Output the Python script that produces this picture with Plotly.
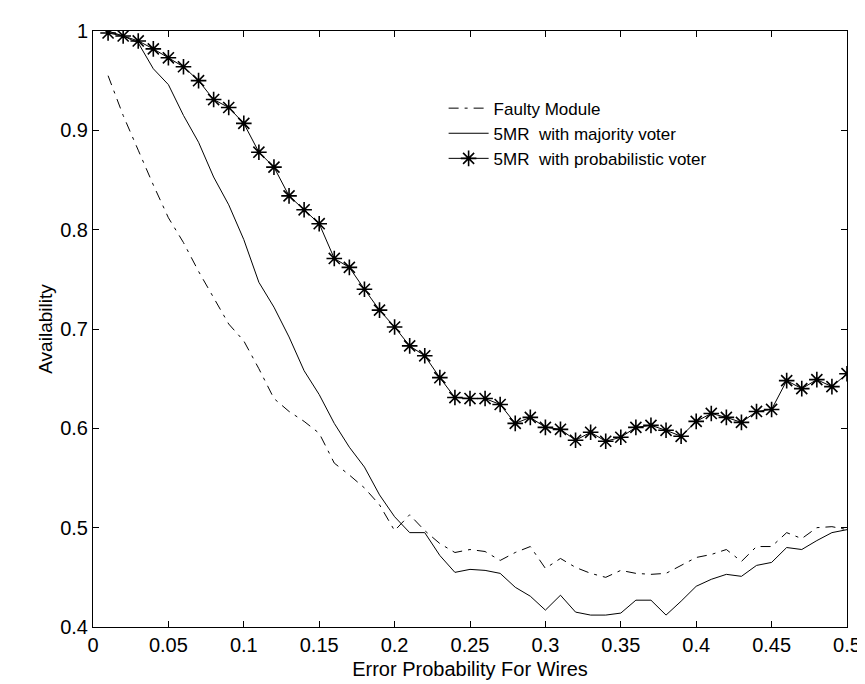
import plotly.graph_objects as go

x_vals = [round(0.01 * i, 2) for i in range(1, 51)]

faulty_module = [0.955, 0.915, 0.880, 0.845, 0.812, 0.787, 0.758, 0.731, 0.705, 0.688,
                 0.660, 0.630, 0.617, 0.607, 0.595, 0.565, 0.553, 0.540, 0.523, 0.497,
                 0.513, 0.497, 0.484, 0.475, 0.478, 0.476, 0.467, 0.475, 0.481, 0.459,
                 0.469, 0.460, 0.454, 0.450, 0.457, 0.454, 0.453, 0.454, 0.462, 0.470,
                 0.473, 0.478, 0.466, 0.481, 0.481, 0.495, 0.489, 0.500, 0.501, 0.498]

majority_voter = [1.000, 0.995, 0.988, 0.962, 0.946, 0.915, 0.888, 0.853, 0.825, 0.790,
                  0.747, 0.722, 0.692, 0.658, 0.634, 0.605, 0.581, 0.561, 0.533, 0.511,
                  0.495, 0.495, 0.472, 0.455, 0.458, 0.457, 0.454, 0.440, 0.431, 0.417,
                  0.432, 0.415, 0.412, 0.412, 0.414, 0.427, 0.427, 0.412, 0.426, 0.441,
                  0.448, 0.453, 0.451, 0.462, 0.465, 0.480, 0.478, 0.487, 0.495, 0.498]

probabilistic_voter = [0.998, 0.995, 0.990, 0.982, 0.973, 0.964, 0.950, 0.931, 0.923, 0.907,
                       0.878, 0.863, 0.834, 0.820, 0.806, 0.771, 0.762, 0.740, 0.719, 0.702,
                       0.683, 0.673, 0.651, 0.631, 0.630, 0.630, 0.624, 0.605, 0.611, 0.601,
                       0.599, 0.588, 0.596, 0.587, 0.591, 0.601, 0.603, 0.598, 0.592, 0.607,
                       0.615, 0.611, 0.606, 0.617, 0.619, 0.648, 0.640, 0.649, 0.642, 0.655]

x_tick_vals = [0, 0.05, 0.1, 0.15, 0.2, 0.25, 0.3, 0.35, 0.4, 0.45, 0.5]
x_tick_text = ["0", "0.05", "0.1", "0.15", "0.2", "0.25", "0.3", "0.35", "0.4", "0.45", "0.5"]
y_tick_vals = [0.4, 0.5, 0.6, 0.7, 0.8, 0.9, 1.0]
y_tick_text = ["0.4", "0.5", "0.6", "0.7", "0.8", "0.9", "1"]

FONT = "Liberation Sans, Arial, sans-serif"

fig = go.Figure()
fig.add_trace(go.Scatter(x=x_vals, y=faulty_module, mode="lines", name="Faulty Module",
                         line=dict(color="black", width=1, dash="10px,6px,3px,6px")))
fig.add_trace(go.Scatter(x=x_vals, y=majority_voter, mode="lines", name="5MR  with majority voter",
                         line=dict(color="black", width=1)))
fig.add_trace(go.Scatter(x=x_vals, y=probabilistic_voter, mode="lines+markers",
                         name="5MR  with probabilistic voter",
                         line=dict(color="black", width=1),
                         marker=dict(symbol="asterisk-open", size=13, color="black",
                                     line=dict(color="black", width=1.6))))

axis_common = dict(showline=True, linecolor="black", linewidth=1, mirror="ticks",
                   ticks="inside", ticklen=6, tickcolor="black", tickwidth=1,
                   showgrid=False, zeroline=False,
                   tickfont=dict(family=FONT, size=20, color="black"))

fig.update_layout(
    width=865, height=684,
    margin=dict(l=85, r=17, t=16, b=65),
    paper_bgcolor="white", plot_bgcolor="white",
    font=dict(family=FONT, size=20, color="black"),
    xaxis=dict(range=[0, 0.5], tickvals=x_tick_vals, ticktext=x_tick_text,
               title=dict(text="Error Probability For Wires", font=dict(family=FONT, size=20), standoff=6),
               **axis_common),
    yaxis=dict(range=[0.4, 1.0], tickvals=y_tick_vals, ticktext=y_tick_text,
               title=dict(text="Availability", font=dict(family=FONT, size=19), standoff=2),
               **axis_common),
    legend=dict(x=0.465, y=0.9, xanchor="left", yanchor="top",
                bgcolor="rgba(0,0,0,0)", borderwidth=0,
                font=dict(family=FONT, size=17, color="black"),
                tracegroupgap=0, itemwidth=40),
    showlegend=True,
)

fig.write_html("out.html")
